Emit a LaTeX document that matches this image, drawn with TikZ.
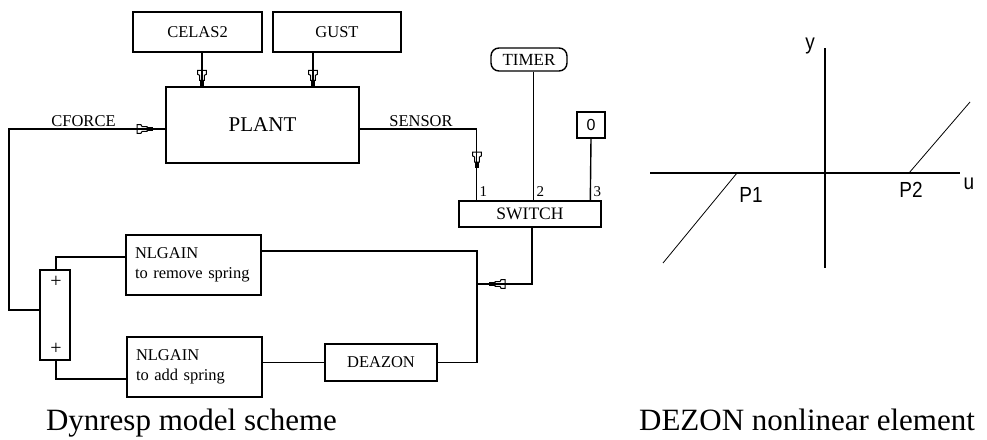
\documentclass[tikz,border=0pt]{standalone}
\usepackage{fontspec}
\setmainfont{Liberation Serif}
\newfontfamily\axfont{Liberation Sans}
\usetikzlibrary{calc}
\tikzset{
  blk/.style={draw, line width=1.4pt, inner sep=0pt, font=\fontsize{16.5}{20}\selectfont},
  lbl/.style={inner sep=0pt, font=\fontsize{16.5}{20}\selectfont},
  port/.style={inner sep=0pt, font=\fontsize{15}{16}\selectfont},
  wire/.style={line width=1.4pt},
  capt/.style={inner sep=0pt, font=\fontsize{31}{36}\selectfont},
  axl/.style={inner sep=0pt, font=\axfont\fontsize{19}{22}\selectfont},
  axis/.style={line width=1.4pt},
  thin/.style={line width=0.8pt},
  ahead/.pic={
    \fill (-6,-1.9) rectangle (0,1.9);
    \draw[line width=1pt] (-6,-2.4) -- (-11,-2.4) -- (-12,-4.3) -- (-16,-4.3) -- (-16,4.3) -- (-12,4.3) -- (-11,2.4) -- (-6,2.4) -- cycle;
  }
}
\begin{document}
\begin{tikzpicture}[x=1pt,y=-1pt]
\useasboundingbox (0,0) rectangle (987,439);
% blocks
\node[blk, minimum width=129pt, minimum height=40pt] (celas) at (197.5,32) {CELAS2};
\node[blk, minimum width=128pt, minimum height=40pt] (gust) at (337,32) {GUST};
\node[blk, minimum width=193pt, minimum height=76pt, font=\fontsize{21}{24}\selectfont] (plant) at (262.5,125) {PLANT};
\node[blk, rounded corners=8pt, minimum width=76pt, minimum height=23pt, font=\fontsize{17}{20}\selectfont] (timer) at (529,59.5) {TIMER};
\node[blk, minimum width=28pt, minimum height=26pt, font=\axfont\fontsize{16}{18}\selectfont] (zero) at (591,125) {0};
\node[blk, minimum width=142pt, minimum height=26pt, font=\fontsize{17.5}{20}\selectfont] (switch) at (530,214) {SWITCH};
\node[blk, text width=117pt, align=left, inner xsep=9pt, minimum height=60pt] (nl1) at (193.5,265) {NLGAIN\\to remove spring};
\node[blk, text width=117pt, align=left, inner xsep=9pt, minimum height=60pt] (nl2) at (194.5,367) {NLGAIN\\to add spring};
\node[blk, minimum width=112pt, minimum height=37pt] (deazon) at (381,362.5) {DEAZON};
\node[blk, minimum width=30pt, minimum height=90pt] (sum) at (55,315) {};
\node[lbl, font=\fontsize{20}{22}\selectfont] (plus1) at (56,282) {+};
\node[lbl, font=\fontsize{20}{22}\selectfont] (plus2) at (56,349) {+};
% ports of switch
\coordinate (p1) at ([xshift=18pt]switch.north west);
\coordinate (p2) at ([xshift=75pt]switch.north west);
\coordinate (p3) at ([xshift=132pt]switch.north west);
\node[port, anchor=base west] (l1) at ($(p1)+(3,-4)$) {1};
\node[port, anchor=base west] (l2) at ($(p2)+(3,-4)$) {2};
\node[port, anchor=base west] (l3) at ($(p3)+(3,-4)$) {3};
% inputs to plant
\coordinate (ct) at ([xshift=4.5pt]celas.south |- plant.north);
\coordinate (gt) at ([xshift=-24pt]gust.south |- plant.north);
\draw[wire] ([xshift=4.5pt]celas.south) -- (ct);
\draw[wire] ([xshift=-24pt]gust.south) -- (gt);
\pic[rotate=-90] at (ct) {ahead};
\pic[rotate=-90] at (gt) {ahead};
% feedback: sum -> CFORCE -> plant
\coordinate (cft) at (153,129);
\draw[wire] ([yshift=5pt]sum.west) -- (9,310) |- ([yshift=-4pt]plant.west);
\pic at (cft) {ahead};
\node[lbl, anchor=base] (cforce) at (83.5,126) {CFORCE};
% sensor
\coordinate (st) at (477,168);
\draw[wire] ([yshift=-4pt]plant.east) -| (p1);
\pic[rotate=-90] at (st) {ahead};
\node[lbl, anchor=base] (sensor) at (421,126) {SENSOR};
% timer and zero
\draw[wire] (p2 |- timer.south) -- (p2);
\draw[wire] (zero.south) -- (p3);
% switch output
\coordinate (jn) at (477,284);
\coordinate (ot) at (489,284);
\draw[wire] ([xshift=2pt]switch.south) |- (jn);
\pic[rotate=180] at (ot) {ahead};
% loop
\draw[wire] ([yshift=14pt]nl1.east) -| (jn) |- (deazon.east);
\draw[wire] (deazon.west -| nl2.east) -- (deazon.west);
\draw[wire] ([xshift=1pt]sum.north) |- ([yshift=8pt]nl1.west);
\draw[wire] ([xshift=1pt]sum.south) |- ([yshift=-12pt]nl2.west);
% captions
\node[capt, anchor=base] (cap1) at (191.5,430) {Dynresp model scheme};
\node[capt, anchor=base] (cap2) at (807,430) {DEZON nonlinear element};
% DEZON plot
\coordinate (ul) at (650,173);
\coordinate (ur) at (960,173);
\coordinate (yt) at (825,48);
\coordinate (yb) at (825,268);
\draw[axis] (ul) -- (ur);
\draw[axis] (yt) -- (yb);
\coordinate (P1) at (737,173);
\coordinate (P2) at (909,173);
\draw[thin] (P1) -- (663,263);
\draw[thin] (P2) -- (970,102);
\node[axl, anchor=base] (ylab) at (810,49) {\scalebox{1}[1.15]{y}};
\node[axl, anchor=base] (ulab) at (969,189) {\scalebox{1}[1.15]{u}};
\node[axl, anchor=base] (p1lab) at (751,202) {\scalebox{1}[1.15]{P1}};
\node[axl, anchor=base] (p2lab) at (911,197) {\scalebox{1}[1.15]{P2}};
\end{tikzpicture}
\end{document}
